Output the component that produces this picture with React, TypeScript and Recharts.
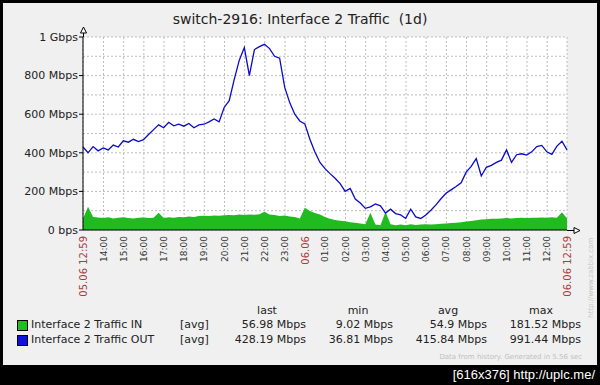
import React from 'react';
import { ComposedChart, Line, Area, XAxis, YAxis, CartesianGrid } from 'recharts';

// one sample every 15 minutes, from 05.06 12:59 to 06.06 12:59
const stepMinutes = 15;

const outMbps = [
  430, 400, 432, 410, 425, 415, 440, 430, 462, 455,
  470, 458, 468, 495, 520, 545, 530, 558, 540, 548,
  538, 552, 530, 545, 548, 560, 575, 560, 635, 670,
  780, 880, 945, 800, 935, 950, 962, 940, 900, 890,
  740, 660, 600, 565, 550, 470, 404, 350, 318, 292,
  268, 240, 200, 215, 160, 140, 112, 120, 135, 125,
  88, 108, 85, 78, 60, 108, 68, 60, 78, 102,
  130, 162, 190, 208, 225, 245, 300, 330, 370, 280,
  325, 335, 350, 362, 415, 350, 390, 395, 388, 405,
  432, 438, 405, 392, 435, 460, 415,
];

const inMbps = [
  60, 120, 68, 65, 62, 66, 60, 64, 66, 62,
  60, 63, 65, 62, 64, 90, 62, 66, 63, 68,
  66, 70, 68, 72, 74, 72, 75, 74, 76, 78,
  77, 80, 78, 80, 79, 82, 95, 80, 78, 72,
  75, 70, 68, 60, 115, 98, 88, 80, 68, 58,
  52, 48, 45, 40, 38, 34, 30, 90, 28, 24,
  95, 30, 25, 28, 24, 30, 26, 28, 30, 28,
  30, 32, 34, 36, 38, 40, 44, 46, 50, 55,
  56, 58, 58, 60, 62, 60, 62, 64, 62, 64,
  63, 65, 64, 66, 63, 92, 60,
];

const xLabels = [
  '05.06 12:59',
  '14:00', '15:00', '16:00', '17:00', '18:00', '19:00', '20:00', '21:00', '22:00', '23:00',
  '06.06',
  '01:00', '02:00', '03:00', '04:00', '05:00', '06:00', '07:00', '08:00', '09:00', '10:00', '11:00', '12:00',
  '06.06 12:59',
];
const redLabels = ['05.06 12:59', '06.06', '06.06 12:59'];

const yTicks = [0, 100, 200, 300, 400, 500, 600, 700, 800, 900, 1000];
const yLabels: Record<number, string> = {
  0: '0 bps',
  200: '200 Mbps',
  400: '400 Mbps',
  600: '600 Mbps',
  800: '800 Mbps',
  1000: '1 Gbps',
};

const legendRows = [
  { name: 'Interface 2 Traffic IN', color: '#1fbf1f', last: '56.98 Mbps', min: '9.02 Mbps', avg: '54.9 Mbps', max: '181.52 Mbps' },
  { name: 'Interface 2 Traffic OUT', color: '#1010e0', last: '428.19 Mbps', min: '36.81 Mbps', avg: '415.84 Mbps', max: '991.44 Mbps' },
];

const totalMinutes = 1440;
const data = outMbps.map((v, i) => ({ t: i * stepMinutes, out: v, in: inMbps[i] }));
// 14:00 is 61 minutes after the start, then one label per hour
const xTicks = xLabels.map((_, i) => (i === 0 ? 0 : i === xLabels.length - 1 ? totalMinutes : 61 + 60 * (i - 1)));

const font = '"DejaVu Sans", sans-serif';

const XTick = (props: any) => {
  const { x, y, payload } = props;
  const label = xLabels[xTicks.indexOf(payload.value)];
  const red = redLabels.includes(label);
  return (
    <text
      x={x}
      y={y + 6}
      transform={`rotate(-90 ${x} ${y + 6})`}
      textAnchor="end"
      dy="0.35em"
      fontSize={red ? 10 : 9}
      fontFamily={font}
      fill={red ? '#a83c3c' : '#333'}
    >
      {label}
    </text>
  );
};

const YTick = (props: any) => {
  const { x, y, payload } = props;
  const label = yLabels[payload.value];
  if (!label) return null;
  return (
    <g>
      <line x1={x - 4} x2={x} y1={y} y2={y} stroke="#000" />
      <text x={x - 5} y={y} dy="0.35em" textAnchor="end" fontSize={11} fontFamily={font} fill="#222">
        {label}
      </text>
    </g>
  );
};

const cols = [
  { key: 'last', right: 306, head: 267 },
  { key: 'min', right: 393, head: 358 },
  { key: 'avg', right: 487, head: 448 },
  { key: 'max', right: 581, head: 541 },
];

export default function App() {
  return (
    <div style={{ position: 'relative', width: 600, height: 385, background: '#000', fontFamily: font, overflow: 'hidden' }}>
      <style>{`body{margin:0}`}</style>
      <div style={{ position: 'absolute', left: 3, top: 3, width: 594, height: 362, background: '#f0f0f0' }} />
      <div style={{ position: 'absolute', left: 0, top: 11, width: 600, textAlign: 'center', fontSize: 14, lineHeight: '16px', color: '#222' }}>
        switch-2916: Interface 2 Traffic&nbsp;&nbsp;(1d)
      </div>
      <div style={{ position: 'absolute', left: 0, top: 0 }}>
        <ComposedChart width={600} height={385} data={data} margin={{ top: 37, right: 33, bottom: 0, left: 0 }}>
          <CartesianGrid fill="#fff" stroke="#bdbdbd" strokeDasharray="2 2" />
          <XAxis
            dataKey="t"
            type="number"
            domain={[0, totalMinutes]}
            ticks={xTicks}
            interval={0}
            height={155}
            tickSize={0}
            tickMargin={0}
            tick={<XTick />}
            axisLine={{ stroke: '#000' }}
          />
          <YAxis
            type="number"
            domain={[0, 1000]}
            ticks={yTicks}
            interval={0}
            width={83}
            tickSize={0}
            tickMargin={0}
            tick={<YTick />}
            axisLine={{ stroke: '#000' }}
          />
          <Area
            type="linear"
            dataKey="in"
            stroke="none"
            fill="#1fbb1f"
            fillOpacity={1}
            isAnimationActive={false}
          />
          <Line
            type="linear"
            dataKey="out"
            stroke="#0a0ac8"
            strokeWidth={1.3}
            dot={false}
            isAnimationActive={false}
          />
        </ComposedChart>
      </div>
      <svg width={600} height={385} style={{ position: 'absolute', left: 0, top: 0, pointerEvents: 'none' }}>
        <line x1={83.5} x2={83.5} y1={30} y2={37} stroke="#000" />
        <path d="M80.5 33 L83.5 27 L86.5 33 Z" fill="#fff" stroke="#000" />
        <line x1={567} x2={574} y1={230.5} y2={230.5} stroke="#000" />
        <path d="M574 227.5 L580 230.5 L574 233.5 Z" fill="#fff" stroke="#000" />
        <text x={593} y={318} transform="rotate(-90 593 318)" fontSize={7} fill="#c4c4c4" fontFamily={font}>
          http://www.zabbix.com
        </text>
      </svg>
      <div style={{ position: 'absolute', top: 0, left: 0, width: 600, fontSize: 11, color: '#222' }}>
        {cols.map((c) => (
          <div key={c.key} style={{ position: 'absolute', top: 304, left: c.head - 40, width: 80, textAlign: 'center', lineHeight: '14px' }}>
            {c.key}
          </div>
        ))}
        {legendRows.map((r, i) => (
          <React.Fragment key={r.name}>
            <div
              style={{
                position: 'absolute',
                left: 17,
                top: 320 + i * 15,
                width: 9,
                height: 9,
                background: r.color,
                border: '1px solid #000',
              }}
            />
            <div style={{ position: 'absolute', left: 31, top: 318 + i * 15, lineHeight: '14px', whiteSpace: 'nowrap' }}>{r.name}</div>
            <div style={{ position: 'absolute', left: 180, top: 318 + i * 15, lineHeight: '14px' }}>[avg]</div>
            {cols.map((c) => (
              <div
                key={c.key}
                style={{ position: 'absolute', left: c.right - 100, width: 100, top: 318 + i * 15, lineHeight: '14px', textAlign: 'right', whiteSpace: 'nowrap' }}
              >
                {(r as any)[c.key]}
              </div>
            ))}
          </React.Fragment>
        ))}
        <div style={{ position: 'absolute', left: 382, width: 200, top: 352, fontSize: 7, lineHeight: '10px', textAlign: 'right', color: '#c0c0c0' }}>
          Data from history. Generated in 5.56 sec
        </div>
      </div>
      <div
        style={{
          position: 'absolute',
          right: 5,
          top: 366,
          fontSize: 13,
          lineHeight: '18px',
          color: '#fff',
          fontFamily: '"Liberation Sans Narrow", "Liberation Sans", sans-serif',
        }}
      >
        [616x376] http://uplc.me/
      </div>
    </div>
  );
}
